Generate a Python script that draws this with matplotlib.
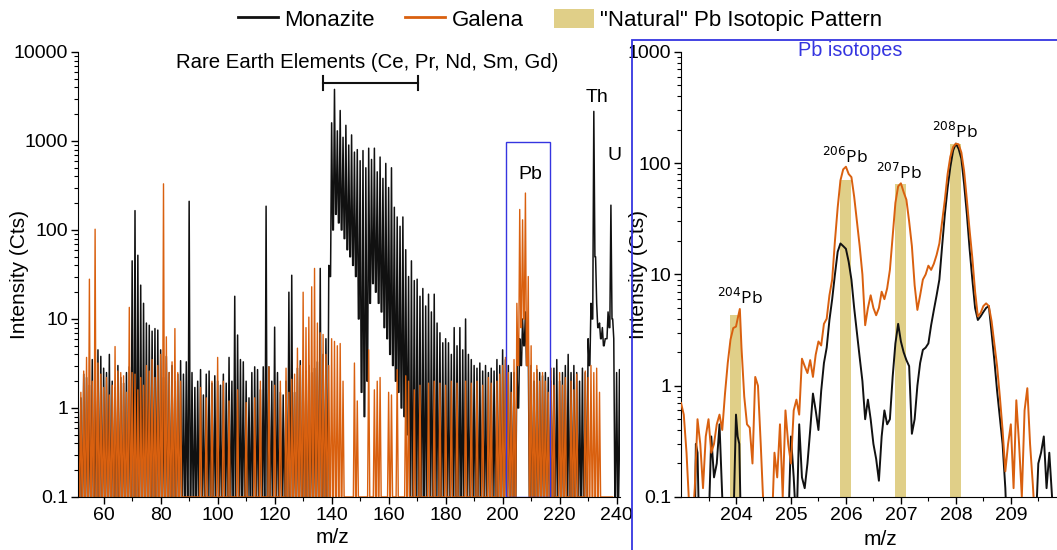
import numpy as np
import matplotlib
matplotlib.use("Agg")
import matplotlib.pyplot as plt
from matplotlib.patches import Rectangle, Patch
from matplotlib.lines import Line2D
from matplotlib.ticker import (FuncFormatter, MultipleLocator, FixedLocator,
                               LogLocator, NullFormatter)

plt.rcParams['font.family'] = ['Liberation Sans', 'DejaVu Sans']

# nominal masses of the survey spectrum
mz = np.arange(51, 242)

# peak intensity at each nominal mass (Cts), 51 ... 241
monazite_peak = [
    2.5, 1.3, 2.4, 2.2, 1.8, 3.5, 2.2, 4.5, 3.8, 2.8,
    2.5, 4.0, 2.0, 1.7, 3.0, 2.2, 1.9, 2.5, 2.9, 45,
    165, 52, 24, 15, 9, 8.5, 7.3, 7.8, 7.5, 4.5,
    2.2, 3.8, 2.5, 3.0, 2.0, 2.4, 3.4, 2.4, 3.3, 210,
    2.5, 1.7, 2.0, 2.7, 1.4, 2.4, 2.6, 1.9, 2.3, 2.0,
    1.8, 2.4, 1.9, 3.7, 2.0, 18, 6.6, 3.5, 3.3, 2.0,
    1.3, 2.5, 2.9, 2.7, 1.6, 2.9, 185, 2.9, 2.0, 8.1,
    2.5, 1.5, 1.4, 2.0, 20, 31, 1.5, 2.8, 3.4, 2.2,
    2.6, 3.0, 2.5, 2.8, 3.3, 37, 4.0, 6.0, 40, 1600,
    3800, 1300, 2200, 1100, 1500, 900, 1170, 750, 800, 600,
    780, 500, 830, 620, 830, 450, 660, 380, 560, 300,
    500, 180, 140, 110, 140, 60, 30, 45, 27, 28,
    18, 22, 14, 19, 12, 19, 9, 7, 5.4, 6,
    5.4, 4, 8, 5, 8, 4.5, 10, 4, 3.5, 3,
    2.8, 3.2, 2.6, 3.0, 2.5, 2.8, 2.6, 3.5, 3.0, 4.5,
    3.5, 3.0, 2.5, 2.5, 3, 6, 10, 12, 5, 3,
    2.0, 2.7, 2.5, 2.3, 2.5, 2.2, 2.0, 2.8, 3.5, 2.0,
    2.5, 3.0, 4.0, 2.5, 3.0, 2.5, 2.0, 2.8, 2.5, 6,
    15, 2150, 15, 9, 8, 6, 12, 190, 6, 2.5,
    2.7,
]
# trough level after each nominal mass
monazite_floor = (
    [0.1] * 88
    + [30, 100, 150, 120, 100, 80, 60, 50, 40, 30, 10, 1.5, 0.8, 2,
       15, 25, 20, 15, 12, 8, 6, 4, 3, 2, 1.5, 1, 0.8, 0.5]
    + [0.1] * 38
    + [1, 3, 5, 3]
    + [0.1] * 21
    + [3, 10, 50, 8, 6, 5, 6, 8, 10]
    + [0.1] * 3
)
galena_peak = [
    1.3, 1.5, 2.6, 3.7, 28, 2.0, 102, 3.2, 2.4, 1.7,
    2.2, 1.4, 1.8, 4.9, 2.6, 2.5, 2.3, 1.5, 13.5, 2.5,
    2.4, 1.6, 2.2, 1.8, 3.0, 2.6, 3.5, 2.2, 3.0, 4.0,
    330, 6.3, 2.5, 3.3, 7.8, 2.5, 2.0, 0.1, 0.1, 0.1,
    0.1, 0.1, 0.1, 1.7, 0.1, 1.3, 0.1, 2.0, 0.1, 3.7,
    0.1, 2.0, 0.1, 1.2, 0.1, 0.1, 1.6, 0.1, 0.1, 1.15,
    0.1, 0.1, 1.3, 0.1, 2.0, 0.1, 0.1, 2.9, 0.1, 1.8,
    0.1, 2.0, 0.1, 2.8, 1.5, 2.1, 2.4, 4.7, 3.0, 20,
    8, 10.5, 23, 37, 9, 7, 6.7, 4, 3, 6,
    5.6, 5, 5.3, 2.0, 0.1, 0.1, 0.1, 3.2, 1.2, 0.1,
    0.1, 0.1, 4.5, 0.1, 1.6, 2.0, 2.2, 0.1, 0.1, 1.5,
    1.4, 0.1, 2.7, 0.1, 0.1, 2.3, 2.0, 0.1, 1.6, 0.1,
    1.8, 0.1, 0.1, 1.9, 0.1, 2.0, 0.1, 1.9, 0.1, 1.8,
    0.1, 2.0, 0.1, 1.9, 0.1, 0.1, 2.0, 0.1, 1.9, 0.1,
    2.0, 0.1, 1.8, 0.1, 2.2, 1.9, 0.1, 2.0, 2.4, 3.0,
    3.7, 2.5, 1.5, 3.5, 15, 170, 130, 260, 30, 5,
    2.5, 3.0, 2.0, 2.5, 2.0, 1.5, 2.8, 1.8, 0.1, 2.5,
    1.8, 2.2, 0.1, 2.0, 1.6, 2.4, 0.1, 0.1, 2.6, 2.2,
    3.0, 2.5, 2.8, 1.5, 0.1, 0.1, 0.1, 0.1, np.nan, np.nan,
    np.nan,
]
galena_floor = [0.1] * 154 + [3, 8, 10, 3] + [0.1] * 30 + [np.nan] * 3

# zoom on the Pb isotopes (fine m/z scan)
galena_pb_mz = [
    203.00, 203.05, 203.10, 203.15, 203.20, 203.25, 203.30, 203.35, 203.40, 203.45,
    203.50, 203.55, 203.60, 203.65, 203.70, 203.75, 203.80, 203.85, 203.90, 203.95,
    204.00, 204.03, 204.07, 204.10, 204.15, 204.20, 204.25, 204.30, 204.35, 204.40,
    204.45, 204.50, 204.55, 204.65, 204.70, 204.75, 204.80, 204.85, 204.90, 204.95,
    205.00, 205.05, 205.10, 205.15, 205.20, 205.25, 205.30, 205.35, 205.40, 205.45,
    205.50, 205.55, 205.60, 205.65, 205.70, 205.75, 205.80, 205.85, 205.90, 205.95,
    206.00, 206.05, 206.10, 206.15, 206.20, 206.25, 206.30, 206.35, 206.40, 206.45,
    206.50, 206.55, 206.60, 206.65, 206.70, 206.75, 206.80, 206.85, 206.90, 206.95,
    207.00, 207.05, 207.10, 207.15, 207.20, 207.25, 207.30, 207.35, 207.40, 207.45,
    207.50, 207.55, 207.60, 207.65, 207.70, 207.75, 207.80, 207.85, 207.90, 207.95,
    208.00, 208.05, 208.10, 208.15, 208.20, 208.25, 208.30, 208.35, 208.40, 208.45,
    208.50, 208.55, 208.60, 208.65, 208.70, 208.75, 208.80, 208.85, 208.90, 208.95,
    209.00, 209.05, 209.10, 209.15, 209.20, 209.25, 209.30, 209.35, 209.40, 209.45,
]
galena_pb = [
    0.70, 0.55, 0.25, 0.08, 0.05, 0.12, 0.50, 0.30, 0.12, 0.35,
    0.50, 0.25, 0.30, 0.45, 0.55, 0.40, 0.85, 1.6, 2.6, 3.3,
    3.4, 4.0, 4.9, 2.2, 0.8, 0.45, 0.42, 0.20, 1.2, 1.0,
    0.3, 0.08, 0.05, 0.05, 0.25, 0.15, 0.45, 0.10, 0.60, 0.30,
    0.20, 0.60, 0.75, 0.55, 1.75, 1.5, 1.3, 1.7, 1.2, 1.9,
    2.5, 2.3, 3.6, 4.0, 6.5, 9, 20, 40, 70, 88,
    93, 80, 75, 50, 30, 18, 10, 3.5, 5, 6.5,
    5, 4.3, 5, 7, 6, 7.5, 11, 22, 44, 62,
    66, 55, 47, 30, 18, 8, 4.8, 6.5, 9, 10,
    12, 11, 12.5, 15, 19, 30, 47, 80, 115, 140,
    150, 148, 125, 85, 47, 25, 14, 7, 4.2, 4.5,
    5.2, 5.5, 5.2, 3.8, 2.4, 1.5, 0.8, 0.4, 0.17, 0.3,
    0.45, 0.12, 0.74, 0.3, 0.10, 0.6, 0.95, 0.3, 0.13, 0.05,
]
monazite_pb_mz = [
    203.00, 203.25, 203.27, 203.30, 203.33, 203.50, 203.55, 203.60, 203.65, 203.70,
    203.75, 203.78, 203.95, 204.00, 204.03, 204.06, 204.09, 204.95, 205.00, 205.05,
    205.10, 205.15, 205.20, 205.25, 205.30, 205.35, 205.40, 205.45, 205.50, 205.55,
    205.60, 205.65, 205.70, 205.75, 205.80, 205.85, 205.90, 205.95, 206.00, 206.05,
    206.10, 206.15, 206.20, 206.25, 206.30, 206.35, 206.40, 206.45, 206.50, 206.55,
    206.60, 206.65, 206.70, 206.75, 206.80, 206.85, 206.90, 206.95, 207.00, 207.05,
    207.10, 207.15, 207.20, 207.25, 207.30, 207.35, 207.40, 207.45, 207.50, 207.55,
    207.60, 207.65, 207.70, 207.75, 207.80, 207.85, 207.90, 207.95, 208.00, 208.05,
    208.10, 208.15, 208.20, 208.25, 208.30, 208.35, 208.40, 208.45, 208.50, 208.55,
    208.60, 208.65, 208.70, 208.75, 208.80, 208.85, 208.90, 208.93, 209.45, 209.50,
    209.55, 209.60, 209.65, 209.70, 209.75, 209.80,
]
monazite_pb = [
    0.05, 0.05, 0.30, 0.25, 0.05, 0.05, 0.35, 0.15, 0.20, 0.45,
    0.10, 0.05, 0.05, 0.55, 0.35, 0.30, 0.05, 0.05, 0.35, 0.15,
    0.05, 0.45, 0.15, 0.12, 0.20, 0.40, 0.85, 0.6, 0.40, 0.9,
    1.6, 2.2, 3.9, 6, 10, 16, 19, 18, 17, 13,
    9, 5, 3, 1.8, 1.1, 0.5, 0.75, 0.5, 0.3, 0.22,
    0.14, 0.35, 0.6, 0.45, 0.5, 1.2, 2.4, 3.6, 2.5, 2.0,
    1.7, 1.5, 0.37, 0.5, 1.0, 1.6, 2.1, 2.2, 2.4, 3.5,
    4.8, 6.5, 9, 18, 35, 60, 93, 130, 150, 135,
    110, 65, 35, 17, 9, 5, 3.9, 4.2, 4.6, 5.0,
    5.2, 3.0, 1.7, 0.9, 0.52, 0.3, 0.12, 0.05, 0.05, 0.20,
    0.25, 0.35, 0.12, 0.25, 0.10, 0.05,
]

# natural Pb isotopic pattern, scaled to the galena 208 peak
natural_mz = [204, 206, 207, 208]
natural_cts = [4.3, 70, 65, 150]

BLACK = '#111111'
ORANGE = '#d9600f'
TAN = '#e0cf88'
BLUE = '#3535e0'
TICK_FS = 14
LABEL_FS = 15


def zigzag(peaks, floors, half=0.38):
    peaks = np.asarray(peaks, float)
    floors = np.asarray(floors, float)
    left = np.r_[floors[0], floors[:-1]]
    x = np.column_stack([mz - half, mz, mz + half]).ravel()
    y = np.column_stack([left, peaks, floors]).ravel()
    return x, y


def log_label(v, pos):
    return f"{v:g}"


def style_log_axis(ax):
    ax.set_yscale('log')
    ax.yaxis.set_major_locator(LogLocator(base=10, numticks=10))
    ax.yaxis.set_minor_locator(LogLocator(base=10, subs=np.arange(2, 10), numticks=20))
    ax.yaxis.set_major_formatter(FuncFormatter(log_label))
    ax.yaxis.set_minor_formatter(NullFormatter())
    ax.spines['top'].set_visible(False)
    ax.spines['right'].set_visible(False)
    ax.tick_params(labelsize=TICK_FS, length=5, width=1, pad=2)
    ax.tick_params(which='minor', length=3, width=0.8)


fig = plt.figure(figsize=(10.57, 5.5), dpi=100)
ax1 = fig.add_axes([0.0738, 0.0964, 0.5128, 0.8091])
ax2 = fig.add_axes([0.6443, 0.0964, 0.3557, 0.8091])

# ---- survey spectrum
x, y = zigzag(monazite_peak, monazite_floor)
ax1.plot(x, y, color=BLACK, lw=1.1)
x, y = zigzag(galena_peak, galena_floor)
ax1.plot(x, y, color=ORANGE, lw=1.0)

style_log_axis(ax1)
ax1.set_ylim(0.1, 10000)
ax1.set_xlim(51, 241.2)
ax1.xaxis.set_major_locator(MultipleLocator(20))
ax1.xaxis.set_minor_locator(MultipleLocator(10))
ax1.set_ylabel('Intensity (Cts)', fontsize=LABEL_FS)
ax1.set_xlabel('m/z', fontsize=LABEL_FS)
ax1.yaxis.set_label_coords(-0.09, 0.5)
ax1.xaxis.set_label_coords(0.47, -0.07)

ax1.add_patch(Rectangle((201.3, 0.1), 15.4, 980, fill=False,
                        edgecolor=BLUE, lw=1, zorder=3))
ax1.text(209.6, 420, 'Pb', fontsize=14, ha='center', va='center')
ax1.text(233.1, 3100, 'Th', fontsize=14, ha='center', va='center')
ax1.text(239.1, 680, 'U', fontsize=14, ha='center', va='center')

ax1.plot([136.9, 170.3], [4470, 4470], color=BLACK, lw=1.5)
ax1.plot([136.9, 136.9], [3700, 5400], color=BLACK, lw=1.5)
ax1.plot([170.3, 170.3], [3700, 5400], color=BLACK, lw=1.5)
ax1.text(152.4, 7600, 'Rare Earth Elements (Ce, Pr, Nd, Sm, Gd)',
         fontsize=14.7, ha='center', va='center')

# ---- Pb isotope zoom
ax2.bar(natural_mz, natural_cts, width=0.2, color=TAN, zorder=1)
ax2.plot(monazite_pb_mz, monazite_pb, color=BLACK, lw=1.4, zorder=2)
ax2.plot(galena_pb_mz, galena_pb, color=ORANGE, lw=1.4, zorder=3)

style_log_axis(ax2)
ax2.set_ylim(0.1, 1000)
ax2.set_xlim(203.0, 209.84)
ax2.xaxis.set_major_locator(FixedLocator([204, 205, 206, 207, 208, 209]))
ax2.xaxis.set_minor_locator(FixedLocator([203.5, 204.5, 205.5, 206.5, 207.5, 208.5, 209.5]))
ax2.set_ylabel('Intensity (Cts)', fontsize=LABEL_FS)
ax2.set_xlabel('m/z', fontsize=LABEL_FS)
ax2.yaxis.set_label_coords(-0.088, 0.5)
ax2.xaxis.set_label_coords(0.53, -0.075)

iso_font = ['Open Sans', 'DejaVu Sans']
ax2.text(204.07, 5.0, r'$^{204}$Pb', fontsize=12.5, ha='center', va='bottom', family=iso_font)
ax2.text(205.98, 92, r'$^{206}$Pb', fontsize=12.5, ha='center', va='bottom', family=iso_font)
ax2.text(206.96, 67, r'$^{207}$Pb', fontsize=12.5, ha='center', va='bottom', family=iso_font)
ax2.text(207.98, 155, r'$^{208}$Pb', fontsize=12.5, ha='center', va='bottom', family=iso_font)

fig.text(850 / 1057, 1 - 50 / 550, 'Pb isotopes', color=BLUE, fontsize=14.3,
         ha='center', va='center')
fig.patches.append(Rectangle((632 / 1057, -0.01), 0.5, 1 - 40 / 550 + 0.01,
                             transform=fig.transFigure, fill=False,
                             edgecolor=BLUE, lw=1.3))

handles = [Line2D([], [], color=BLACK, lw=2),
           Line2D([], [], color=ORANGE, lw=2),
           Patch(facecolor=TAN, edgecolor='none')]
fig.legend(handles, ['Monazite', 'Galena', '"Natural" Pb Isotopic Pattern'],
           loc='center', bbox_to_anchor=(0.53, 0.964), ncol=3, frameon=False,
           fontsize=16, handlelength=1.8, handleheight=1.0, columnspacing=1.35,
           handletextpad=0.3)

fig.savefig('out.png', dpi=100)
